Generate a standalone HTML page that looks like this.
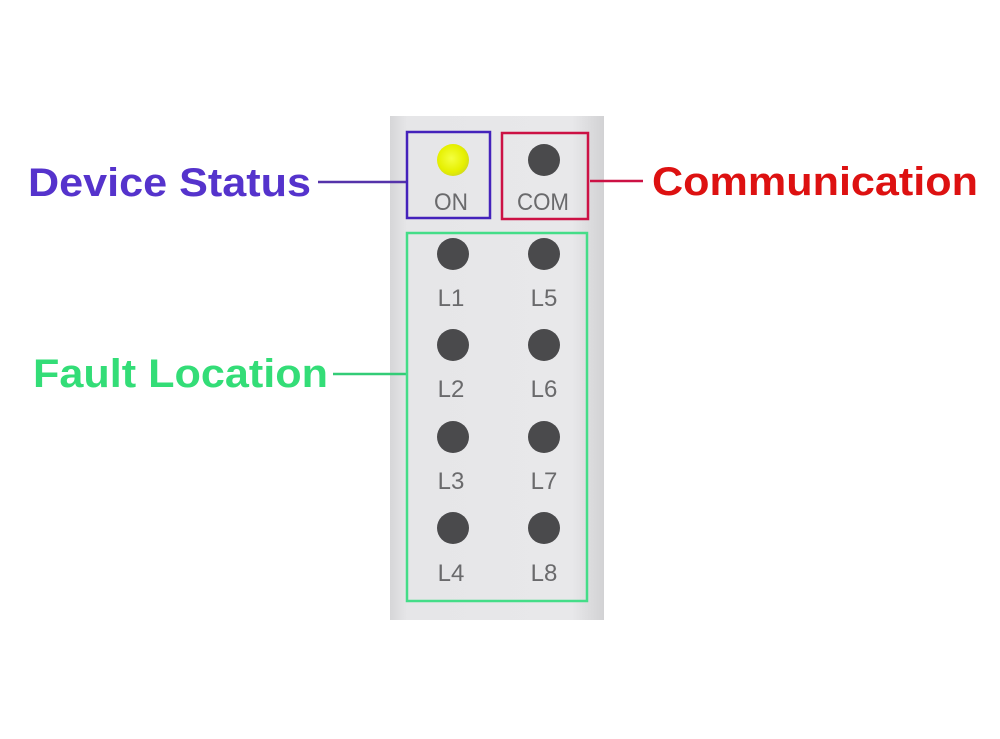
<!DOCTYPE html>
<html><head><style>html,body{margin:0;padding:0;background:#fff}</style></head>
<body>
<svg width="1000" height="739" xmlns="http://www.w3.org/2000/svg" style="display:block">
<defs>
<linearGradient id="pg" x1="0" x2="1" y1="0" y2="0">
<stop offset="0" stop-color="#d6d6d8"/><stop offset="0.08" stop-color="#e6e6e8"/>
<stop offset="0.85" stop-color="#e8e8ea"/><stop offset="1" stop-color="#d2d2d4"/>
</linearGradient>
<radialGradient id="yl" cx="0.45" cy="0.45" r="0.6"><stop offset="0" stop-color="#f4ff40"/><stop offset="0.7" stop-color="#e6f000"/><stop offset="1" stop-color="#d0d820"/></radialGradient>
</defs>
<rect x="390" y="116" width="214" height="504" fill="url(#pg)"/>
<g font-family="Liberation Sans, Arial, sans-serif" font-weight="bold">
<text x="28" y="196" font-size="40" fill="#5533cc" textLength="283" lengthAdjust="spacingAndGlyphs">Device Status</text>
<text x="33" y="387" font-size="40" fill="#33dd77" textLength="295" lengthAdjust="spacingAndGlyphs">Fault Location</text>
<text x="652" y="195" font-size="40" fill="#dd1111" textLength="326" lengthAdjust="spacingAndGlyphs">Communication</text>
</g>
<line x1="318" y1="182" x2="407" y2="182" stroke="#5533aa" stroke-width="2.5"/>
<line x1="590" y1="181" x2="643" y2="181" stroke="#cc1144" stroke-width="2.5"/>
<line x1="333" y1="374" x2="406" y2="374" stroke="#33cc77" stroke-width="2.5"/>
<rect x="407" y="132" width="83" height="86" fill="none" stroke="#4422bb" stroke-width="2.5"/>
<rect x="502" y="133" width="86" height="86" fill="none" stroke="#cc1144" stroke-width="2.5"/>
<rect x="407" y="233" width="180" height="368" fill="none" stroke="#44dd88" stroke-width="2.5"/>
<circle cx="453" cy="160" r="16" fill="url(#yl)"/>
<circle cx="544" cy="160" r="16" fill="#4a4a4c"/>
<g fill="#4a4a4c">
<circle cx="453" cy="254" r="16"/><circle cx="544" cy="254" r="16"/>
<circle cx="453" cy="345" r="16"/><circle cx="544" cy="345" r="16"/>
<circle cx="453" cy="437" r="16"/><circle cx="544" cy="437" r="16"/>
<circle cx="453" cy="528" r="16"/><circle cx="544" cy="528" r="16"/>
</g>
<g font-family="Liberation Sans, Arial, sans-serif" font-size="24" fill="#6a6a6c" text-anchor="middle">
<text x="451" y="210" textLength="34" lengthAdjust="spacingAndGlyphs">ON</text>
<text x="543" y="210" textLength="52" lengthAdjust="spacingAndGlyphs">COM</text>
<text x="451" y="306">L1</text><text x="544" y="306">L5</text>
<text x="451" y="397">L2</text><text x="544" y="397">L6</text>
<text x="451" y="489">L3</text><text x="544" y="489">L7</text>
<text x="451" y="581">L4</text><text x="544" y="581">L8</text>
</g>
</svg>
</body></html>
